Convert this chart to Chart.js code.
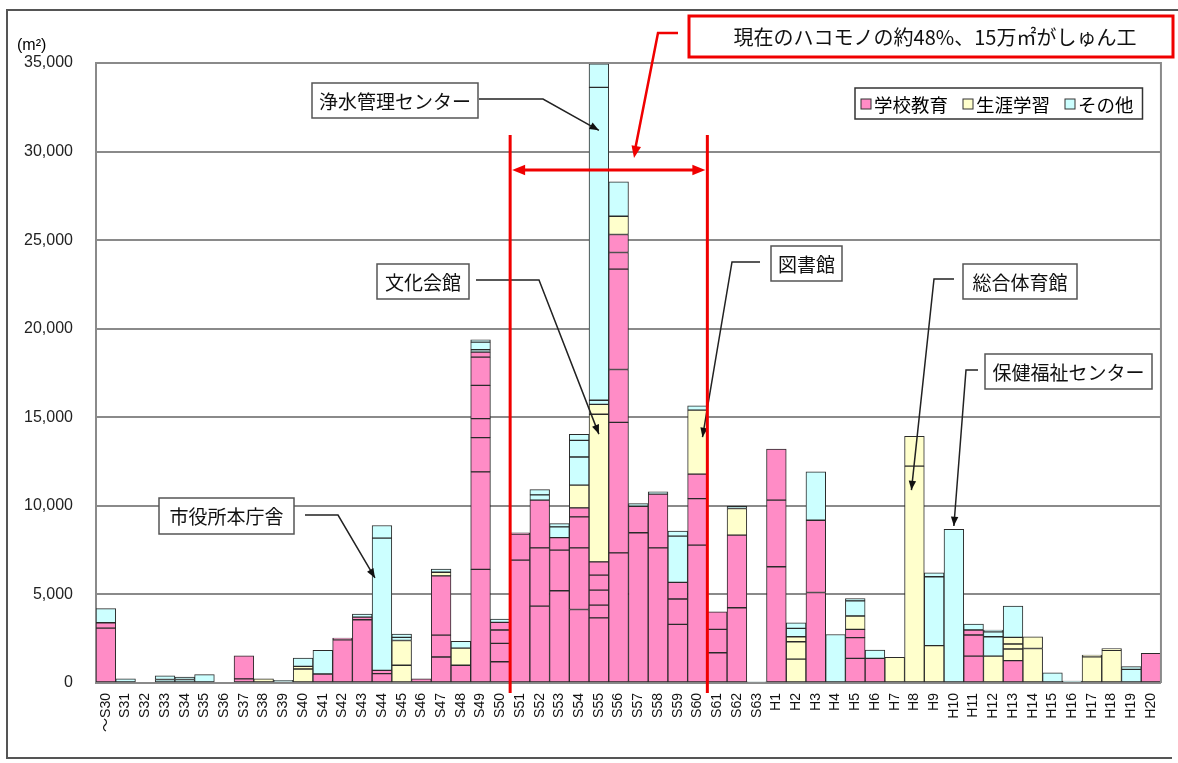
<!DOCTYPE html>
<html><head><meta charset="utf-8">
<script src="https://cdn.jsdelivr.net/npm/chart.js@4.4.0/dist/chart.umd.min.js"></script>
<style>html,body{margin:0;padding:0;background:#fff;overflow:hidden}</style>
</head><body>
<canvas id="c" width="1178" height="763"></canvas>
<script>
// ---- categories (fiscal years of construction) ----
const categories = ['～S30','S31','S32','S33','S34','S35','S36','S37','S38','S39','S40','S41','S42','S43','S44','S45','S46','S47','S48','S49','S50','S51','S52','S53','S54','S55','S56','S57','S58','S59','S60','S61','S62','S63','H1','H2','H3','H4','H5','H6','H7','H8','H9','H10','H11','H12','H13','H14','H15','H16','H17','H18','H19','H20'];

// ---- floor area (m²) of each building segment, stacked per year ----
const school = [[3100,300],[],[],[],[],[],[],[230,1310],[],[],[],[510],[2440,100],[3570,150],[530,180],[],[230],[1470,1230,3350],[1000],[6410,5510,1930,1070,1880,1600,280],[1200,1040,750,430],[6940,1460,80],[4340,3290,2690],[5210,2290,710],[4150,3480,1750,510],[3680,720,840,850,750],[7350,7360,2990,5660,940,1020],[8480,1500],[7630,3030],[3310,1430,940],[7780,2630,1380],[1710,1320,990],[4250,4100],[],[6560,3760,2880],[],[5110,4080],[],[1390,1170,470],[1390],[],[],[],[],[1520,1190,280],[],[1260],[],[],[],[],[],[],[1670]];
const lifelong = [[],[],[],[],[],[],[],[],[240],[],[790,150],[],[],[],[],[1000,1400],[],[200],[970],[],[],[],[],[],[1280],[8330,560],[1030],[],[],[],[3610],[],[1500],[],[],[1350,980,280],[],[],[750],[],[1450],[12240,1690],[2110],[],[],[1520],[660,280,380],[1950,660],[],[],[1480,100],[1850,100],[],[]];
const other = [[800],[230],[],[200,200],[200,130],[470],[],[],[],[150],[470],[1330],[],[170],[7470,710],[180,180],[],[180],[380],[130,430,130],[190],[],[300,300],[600,190],[1590,940,340],[230,17660,1330],[1940],[150],[130],[2610,280],[240],[],[130],[60],[],[470,320],[2730],[2740],[860,130],[470],[],[],[3890,220],[8670],[340],[1090,280,100],[1760],[],[580],[110],[],[],[770,150],[]];

const seriesNames = ['学校教育','生涯学習','その他'];
const seriesColors = ['#FF8CC6','#FFFFCC','#CCFFFF'];
const yTicks = [0,5000,10000,15000,20000,25000,30000,35000];

// callouts: box in px, leader start/bend in px, tip at (category index, value)
const callouts = [
  {text:'浄水管理センター', box:[312,83,166,35], from:[479,99], bend:[543,99], cat:25, val:31200, dx:0},
  {text:'文化会館', box:[377,264,92,35], from:[476,280], bend:[539,280], cat:25, val:14050, dx:0},
  {text:'図書館', box:[771,246,71,35], from:[760,262], bend:[732,262], cat:30, val:13880, dx:5},
  {text:'総合体育館', box:[963,264,114,35], from:[954,279], bend:[934,279], cat:41, val:10890, dx:-3},
  {text:'保健福祉センター', box:[985,354,167,35], from:[978,370], bend:[966,370], cat:43, val:8860, dx:0},
  {text:'市役所本庁舎', box:[159,498,135,36], from:[305,515], bend:[338,515], cat:14, val:5930, dx:-7}
];
const bracketFrom = 21, bracketTo = 30; // S51 .. S60
const noteText = '現在のハコモノの約48%、15万㎡がしゅん工';

const JP = "'Noto Sans CJK JP', sans-serif";
const LAT = "'Liberation Sans', 'Noto Sans CJK JP', sans-serif";

// ---- build datasets: one per stacked layer ----
const datasets = [];
[school, lifelong, other].forEach((arr, si) => {
  const layers = Math.max(...arr.map(a => a.length));
  for (let k = 0; k < layers; k++) {
    datasets.push({
      label: seriesNames[si],
      data: arr.map(a => (a[k] !== undefined ? a[k] : null)),
      backgroundColor: seriesColors[si],
      borderColor: '#2a2a2a',
      borderWidth: 1,
      borderSkipped: false,
      stack: 's',
      barPercentage: 1,
      categoryPercentage: 1
    });
  }
});

function arrowHead(ctx, x1, y1, x2, y2, size, color) {
  const a = Math.atan2(y2 - y1, x2 - x1);
  ctx.save();
  ctx.fillStyle = color;
  ctx.beginPath();
  ctx.moveTo(x2, y2);
  ctx.lineTo(x2 - size * Math.cos(a - 0.38), y2 - size * Math.sin(a - 0.38));
  ctx.lineTo(x2 - size * Math.cos(a + 0.38), y2 - size * Math.sin(a + 0.38));
  ctx.closePath();
  ctx.fill();
  ctx.restore();
}

const overlay = {
  id: 'overlay',
  afterDraw(chart) {
    const ctx = chart.ctx, ca = chart.chartArea;
    const xs = chart.scales.x, ys = chart.scales.y;
    const catW = (ca.right - ca.left) / categories.length;
    ctx.save();
    // outer frame
    ctx.strokeStyle = '#555'; ctx.lineWidth = 2;
    ctx.beginPath();
    ctx.moveTo(1178, 10); ctx.lineTo(7, 10); ctx.lineTo(7, 758); ctx.lineTo(1172, 758);
    ctx.stroke();
    // plot right/top border
    ctx.strokeStyle = '#8a8a8a'; ctx.lineWidth = 2;
    ctx.beginPath();
    ctx.moveTo(ca.left, ca.top); ctx.lineTo(ca.right, ca.top); ctx.lineTo(ca.right, ca.bottom);
    ctx.stroke();
    // unit
    ctx.fillStyle = '#000'; ctx.font = '16px ' + LAT; ctx.textAlign = 'left'; ctx.textBaseline = 'alphabetic';
    ctx.fillText('(m²)', 17, 50);

    // legend
    ctx.font = '18.5px ' + JP;
    let lx = 861; const ly = 104;
    const items = seriesNames.map((n, i) => ({n, c: seriesColors[i]}));
    const widths = items.map(it => 14 + ctx.measureText(it.n).width);
    const total = widths.reduce((a, b) => a + b, 0) + 14 * (items.length - 1);
    ctx.fillStyle = '#fff'; ctx.fillRect(855, 88, total + 14, 31);
    ctx.strokeStyle = '#333'; ctx.lineWidth = 1.5; ctx.strokeRect(855, 88, total + 14, 31);
    items.forEach((it, i) => {
      ctx.fillStyle = it.c; ctx.fillRect(lx, ly - 5, 10, 10);
      ctx.strokeStyle = '#333'; ctx.lineWidth = 1; ctx.strokeRect(lx, ly - 5, 10, 10);
      ctx.fillStyle = '#000'; ctx.textBaseline = 'middle'; ctx.textAlign = 'left';
      ctx.fillText(it.n, lx + 13, ly + 1);
      lx += widths[i] + 14;
    });

    // callouts
    callouts.forEach(c => {
      const [bx, by, bw, bh] = c.box;
      ctx.fillStyle = '#fff'; ctx.fillRect(bx, by, bw, bh);
      ctx.strokeStyle = '#555'; ctx.lineWidth = 1.5; ctx.strokeRect(bx, by, bw, bh);
      ctx.fillStyle = '#111'; ctx.font = '19px ' + JP; ctx.textAlign = 'center'; ctx.textBaseline = 'middle';
      ctx.fillText(c.text, bx + bw / 2, by + bh / 2 + 1);
      const tx = xs.getPixelForValue(c.cat) + c.dx, ty = ys.getPixelForValue(c.val);
      ctx.strokeStyle = '#222'; ctx.lineWidth = 1.5;
      ctx.beginPath(); ctx.moveTo(c.from[0], c.from[1]); ctx.lineTo(c.bend[0], c.bend[1]); ctx.lineTo(tx, ty); ctx.stroke();
      arrowHead(ctx, c.bend[0], c.bend[1], tx, ty, 10, '#111');
    });

    // red bracket
    const xL = xs.getPixelForValue(bracketFrom) - catW / 2;
    const xR = xs.getPixelForValue(bracketTo) + catW / 2;
    const red = '#F00000';
    ctx.strokeStyle = red; ctx.lineWidth = 3;
    ctx.beginPath();
    ctx.moveTo(xL, 135); ctx.lineTo(xL, ca.bottom + 10);
    ctx.moveTo(xR, 135); ctx.lineTo(xR, ca.bottom + 10);
    ctx.moveTo(xL + 8, 170); ctx.lineTo(xR - 8, 170);
    ctx.stroke();
    arrowHead(ctx, xR - 20, 170, xL + 2, 170, 14, red);
    arrowHead(ctx, xL + 20, 170, xR - 2, 170, 14, red);
    // red note + leader
    ctx.lineWidth = 2.5;
    ctx.beginPath(); ctx.moveTo(678, 33); ctx.lineTo(658, 33); ctx.lineTo(635, 150); ctx.stroke();
    arrowHead(ctx, 658, 33, 634, 158, 13, red);
    ctx.fillStyle = '#fff'; ctx.fillRect(689, 16, 489, 40);
    ctx.strokeStyle = red; ctx.lineWidth = 3; ctx.strokeRect(689, 16, 484, 41);
    ctx.fillStyle = '#111'; ctx.font = '20px ' + JP; ctx.textAlign = 'center'; ctx.textBaseline = 'middle';
    ctx.fillText(noteText, 935, 37);
    ctx.restore();
  }
};

new Chart(document.getElementById('c'), {
  type: 'bar',
  data: { labels: categories, datasets },
  options: {
    responsive: false,
    animation: false,
    layout: { padding: { left: 0, top: 63, right: 13, bottom: 0 } },
    plugins: { legend: { display: false }, tooltip: { enabled: false } },
    scales: {
      x: {
        stacked: true,
        grid: { display: false, drawTicks: false },
        border: { display: false },
        ticks: { autoSkip: false, minRotation: 90, maxRotation: 90, padding: 10, color: '#111', font: { family: LAT, size: 14 } },
        afterFit(s) { s.height = 80; }
      },
      y: {
        stacked: true,
        min: 0, max: 35000,
        afterBuildTicks(s) { s.ticks = yTicks.map(v => ({ value: v })); },
        grid: { color: '#8a8a8a', lineWidth: 2, drawTicks: false },
        border: { display: true, color: '#8a8a8a', width: 2 },
        ticks: { padding: 23, color: '#222', font: { family: LAT, size: 16 }, callback: v => v.toLocaleString('en-US') },
        afterFit(s) { s.width = 96; }
      }
    }
  },
  plugins: [overlay]
});
</script>
</body></html>
